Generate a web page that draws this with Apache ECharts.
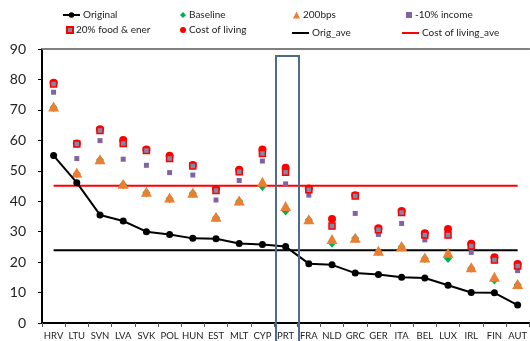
<!DOCTYPE html>
<html>
<head>
<meta charset="utf-8">
<script src="https://cdn.jsdelivr.net/npm/echarts@6/dist/echarts.min.js"></script>
<style>
  html, body { margin: 0; padding: 0; background: #fff; }
</style>
</head>
<body>
<div id="chart" style="width: 530px; height: 341px;"></div>
<script>
const categories = ['HRV', 'LTU', 'SVN', 'LVA', 'SVK', 'POL', 'HUN', 'EST', 'MLT', 'CYP', 'PRT',
  'FRA', 'NLD', 'GRC', 'GER', 'ITA', 'BEL', 'LUX', 'IRL', 'FIN', 'AUT'];
const yTicks = [0, 10, 20, 30, 40, 50, 60, 70, 80, 90];

const original = [55.0, 46.1, 35.5, 33.5, 30.0, 29.1, 27.8, 27.7, 26.1, 25.8, 25.1,
  19.5, 19.1, 16.4, 15.9, 15.0, 14.8, 12.4, 10.0, 9.9, 5.9];
const baseline = [70.8, 49.0, 53.5, 45.4, 42.8, 40.8, 42.6, 34.6, 40.0, 44.8, 36.8,
  33.8, 26.2, 27.8, 23.5, 25.0, 21.2, 21.2, 18.0, 14.1, 12.6];
const bps200 = [71.1, 49.4, 53.8, 45.7, 43.1, 41.2, 42.8, 34.9, 40.2, 46.4, 38.4,
  34.1, 27.6, 28.0, 23.7, 25.3, 21.5, 23.1, 18.3, 15.2, 12.8];
const income10 = [75.8, 54.0, 59.9, 53.8, 51.8, 49.4, 48.6, 40.4, 46.8, 53.2, 45.7,
  42.0, 31.6, 36.0, 29.1, 32.7, 27.3, 28.6, 23.2, 20.4, 17.2];
const foodEner = [78.5, 58.8, 63.2, 59.0, 56.7, 54.0, 51.6, 43.5, 49.7, 55.7, 49.5,
  43.8, 31.9, 41.7, 30.6, 36.3, 28.9, 28.9, 25.3, 20.7, 18.7];
const costLiving = [78.9, 59.0, 63.6, 60.1, 57.0, 54.9, 51.9, 44.0, 50.3, 57.0, 51.0,
  44.2, 34.2, 42.0, 31.1, 36.8, 29.5, 30.9, 26.0, 21.6, 19.4];
const origAve = 23.9;
const costAve = 45.1;

const FONT = 'Lato';

const chart = echarts.init(document.getElementById('chart'));

// one legend per entry so each sits where the reference puts it
function legendAt(item, left, top, w, h) {
  return {
    data: [item],
    left: left,
    top: top,
    padding: 0,
    itemWidth: w,
    itemHeight: h,
    itemGap: 0,
    textStyle: { fontFamily: FONT, fontSize: 10, color: '#222', padding: [0, 0, 0, -2] }
  };
}

const option = {
  animation: false,
  legend: [
    legendAt('Original', 62, 10, 17, 7),
    legendAt('Baseline', 180, 10, 6, 6),
    legendAt('200bps', 293, 10, 7, 7),
    legendAt('-10% income', 406, 10, 6, 6),
    legendAt('20% food & ener', 66, 25, 6, 6),
    legendAt('Cost of living', 180, 25, 6, 6),
    legendAt({ name: 'Orig_ave', icon: 'rect' }, 292, 28, 17, 2),
    legendAt({ name: 'Cost of living_ave', icon: 'rect' }, 402, 28, 17, 2)
  ],
  grid: { left: 42, right: -2, top: 49, bottom: 18 },
  xAxis: [
    {
      type: 'category',
      data: categories,
      axisLine: { lineStyle: { color: '#000', width: 2 } },
      axisTick: { show: true, length: 4, interval: 0, lineStyle: { color: '#555' } },
      axisLabel: { fontFamily: FONT, fontSize: 9.5, color: '#222', margin: 8, interval: 0 },
      splitLine: { show: false }
    },
    {
      type: 'category',
      data: categories,
      position: 'top',
      axisLine: { lineStyle: { color: '#808080', width: 2 } },
      axisTick: { show: false },
      axisLabel: { show: false }
    }
  ],
  yAxis: {
    type: 'value',
    min: yTicks[0],
    max: yTicks[yTicks.length - 1],
    interval: 10,
    axisLine: { show: true, lineStyle: { color: '#000', width: 2 } },
    axisTick: { show: true, length: 4, lineStyle: { color: '#000' } },
    axisLabel: { fontFamily: FONT, fontSize: 14, color: '#222', margin: 16 },
    splitLine: { show: false }
  },
  series: [
    {
      name: 'Original',
      type: 'line',
      data: original,
      symbol: 'circle',
      symbolSize: 7,
      itemStyle: { color: '#000' },
      lineStyle: { color: '#000', width: 2 },
      z: 5
    },
    {
      name: 'Baseline',
      type: 'scatter',
      data: baseline,
      symbol: 'diamond',
      symbolSize: [8, 9],
      itemStyle: { color: '#00b050', opacity: 1 },
      z: 3
    },
    {
      name: '200bps',
      type: 'scatter',
      data: bps200,
      symbol: 'triangle',
      symbolSize: [11, 10],
      itemStyle: { color: '#ed7d31', opacity: 1 },
      z: 3
    },
    {
      name: '-10% income',
      type: 'scatter',
      data: income10,
      symbol: 'rect',
      symbolSize: 5,
      itemStyle: { color: '#8064a2', opacity: 1 },
      z: 3
    },
    {
      name: 'Cost of living',
      type: 'scatter',
      data: costLiving,
      symbol: 'circle',
      symbolSize: 8,
      itemStyle: { color: '#ff0000', opacity: 1 },
      z: 3
    },
    {
      name: '20% food & ener',
      type: 'scatter',
      data: foodEner,
      symbol: 'rect',
      symbolSize: 6,
      itemStyle: { color: '#7d8aa8', borderColor: '#ff0000', borderWidth: 1.5, opacity: 1 },
      z: 4
    },
    {
      name: 'Orig_ave',
      type: 'line',
      data: categories.map(() => origAve),
      symbol: 'none',
      itemStyle: { color: '#000' },
      lineStyle: { color: '#000', width: 2 },
      z: 2
    },
    {
      name: 'Cost of living_ave',
      type: 'line',
      data: categories.map(() => costAve),
      symbol: 'none',
      itemStyle: { color: '#ff0000' },
      lineStyle: { color: '#ff0000', width: 2 },
      z: 2
    }
  ],
  graphic: [
    {
      type: 'rect',
      shape: { x: 276, y: 56, width: 23, height: 300 },
      style: { fill: 'none', stroke: '#4f6b8f', lineWidth: 2 },
      z: 10
    }
  ]
};

chart.setOption(option);
</script>
</body>
</html>
